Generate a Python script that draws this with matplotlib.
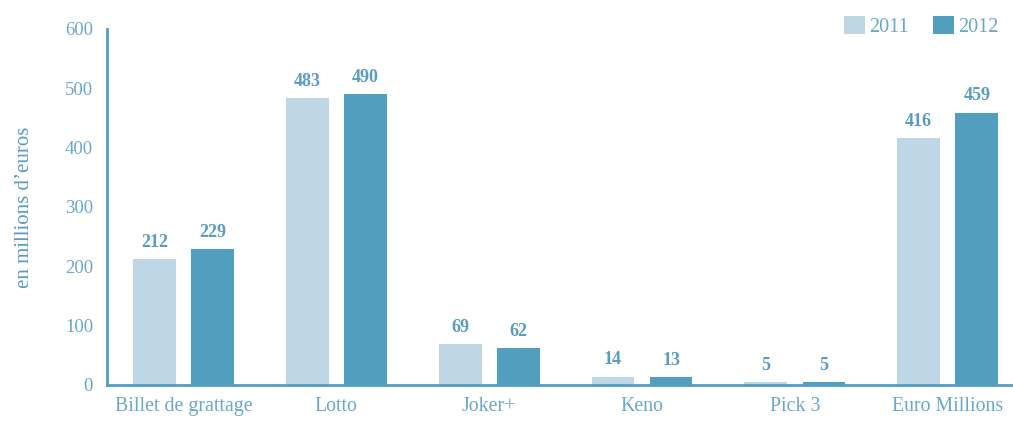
import numpy as np
import matplotlib
matplotlib.use("Agg")
import matplotlib.pyplot as plt

categories = ["Billet de grattage", "Lotto", "Joker+", "Keno", "Pick 3", "Euro Millions"]
values_2011 = [212, 483, 69, 14, 5, 416]
values_2012 = [229, 490, 62, 13, 5, 459]
series_labels = ["2011", "2012"]

light = "#bed6e5"
dark = "#529ebf"
text_col = "#6aa8c9"
label_col = "#5a9bc0"

plt.rcParams['font.family'] = ['Liberation Serif', 'DejaVu Serif']

fig = plt.figure(figsize=(10.13, 4.22), dpi=100)
ax = fig.add_axes([0.1056, 0.0877, 0.8934, 0.8436])

x = np.arange(len(categories))
w = 0.28
off = 0.19
b1 = ax.bar(x - off, values_2011, w, color=light, label=series_labels[0])
b2 = ax.bar(x + off, values_2012, w, color=dark, label=series_labels[1])

for bars in (b1, b2):
    for rect in bars:
        h = rect.get_height()
        ax.annotate(f"{h:.0f}", (rect.get_x() + rect.get_width() / 2, h),
                    xytext=(0, 6), textcoords="offset points",
                    ha="center", va="bottom", fontsize=13,
                    fontweight="bold", color=label_col)

ax.set_xlim(-0.5, 5.42)
ax.set_ylim(0, 600)
ax.set_yticks(range(0, 601, 100))
ax.set_xticks(x)
ax.set_xticklabels(categories, fontsize=14.3)
ax.tick_params(axis="both", length=0, colors=text_col)
ax.tick_params(axis="y", labelsize=13.5, pad=10)
ax.tick_params(axis="x", pad=9)

for s in ("top", "right"):
    ax.spines[s].set_visible(False)
for s in ("left", "bottom"):
    ax.spines[s].set_color(dark)
    ax.spines[s].set_linewidth(2)

ax.set_ylabel("en millions d\u2019euros", fontsize=15, color=label_col, labelpad=22)

fig.legend(loc="upper right", bbox_to_anchor=(1.004, 1.004), ncol=2, frameon=False,
           fontsize=14.5, labelcolor=text_col, handlelength=1.0, handleheight=1.0,
           handletextpad=0.25, columnspacing=1.2)

fig.savefig("out.png", dpi=100)
